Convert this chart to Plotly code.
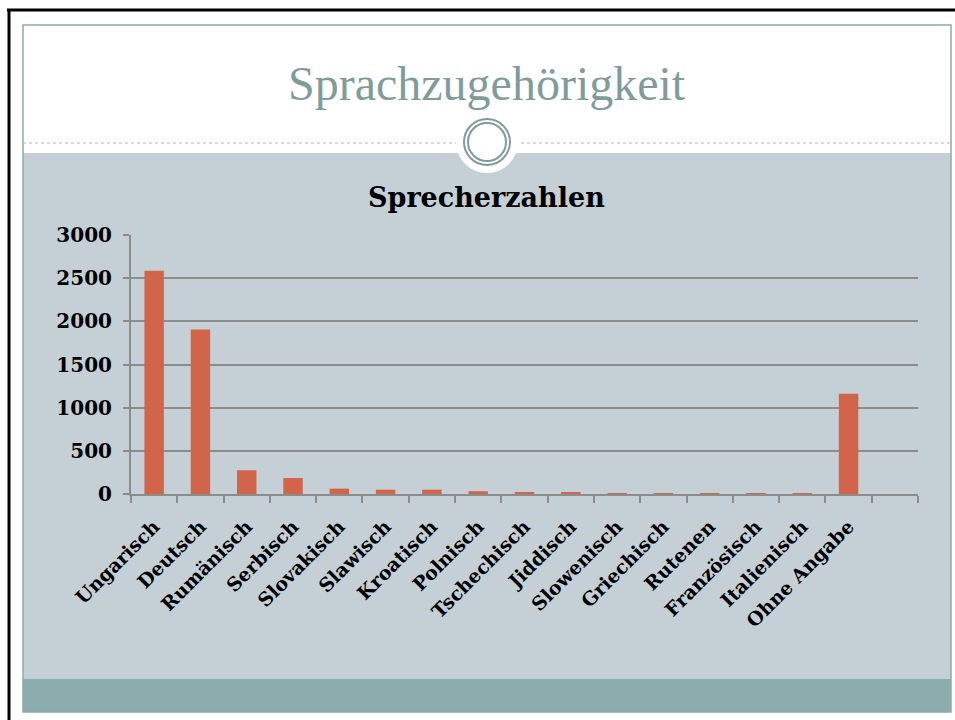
import plotly.graph_objects as go

languages = ["Ungarisch", "Deutsch", "Rumänisch", "Serbisch", "Slovakisch", "Slawisch",
             "Kroatisch", "Polnisch", "Tschechisch", "Jiddisch", "Slowenisch", "Griechisch",
             "Rutenen", "Französisch", "Italienisch", "Ohne Angabe", " "]
speakers = [2585, 1905, 275, 185, 62, 50, 50, 32, 18, 16, 4, 3, 2, 2, 1, 1160, None]
y_ticks = [0, 500, 1000, 1500, 2000, 2500, 3000]

W, H = 955, 720
# plot area in screen pixels
L, R, T, B = 131, 918, 235, 494


def px(x):
    return (x - L) / (R - L)


def py(y):
    return (B - y) / (B - T)


fig = go.Figure()
fig.add_trace(go.Bar(x=languages, y=speakers, marker=dict(color='#d2644a', line=dict(width=0)),
                     hoverinfo='x+y'))

frame = '#8fa9a8'
shapes = [
    # slide panels
    dict(type='rect', x0=px(23), x1=px(951), y0=py(153), y1=py(679), fillcolor='#c5d0d6', line_width=0),
    dict(type='rect', x0=px(23), x1=px(951), y0=py(679), y1=py(712), fillcolor='#8badad', line_width=0),
    dict(type='rect', x0=px(23), x1=px(951), y0=py(25), y1=py(712), fillcolor='rgba(0,0,0,0)',
         line=dict(color=frame, width=1.5)),
    dict(type='line', x0=px(23), x1=px(951), y0=py(143), y1=py(143),
         line=dict(color='#a9b8bc', width=1, dash='dot')),
    # medallion
    dict(type='circle', x0=px(456), x1=px(518), y0=py(111), y1=py(173), fillcolor='white', line_width=0),
    dict(type='circle', x0=px(464), x1=px(510), y0=py(119), y1=py(165), fillcolor='white',
         line=dict(color='#7f9c9b', width=2)),
    dict(type='circle', x0=px(468), x1=px(506), y0=py(123), y1=py(161), fillcolor='rgba(0,0,0,0)',
         line=dict(color='#7f9c9b', width=2)),
    # outer black border
    dict(type='line', x0=px(7), x1=px(960), y0=py(10), y1=py(10), line=dict(color='black', width=3)),
    dict(type='line', x0=px(9), x1=px(9), y0=py(10), y1=py(725), line=dict(color='black', width=3)),
]
for s in shapes:
    s.update(xref='paper', yref='paper', layer='below')

fig.update_layout(
    width=W, height=H,
    margin=dict(l=L, r=W - R, t=T, b=H - B, pad=0),
    paper_bgcolor='white',
    plot_bgcolor='rgba(0,0,0,0)',
    showlegend=False,
    bargap=0.58,
    shapes=shapes,
    font=dict(family='DejaVu Serif', color='black'),
    xaxis=dict(type='category', categoryorder='array', categoryarray=languages,
               tickson='boundaries', ticks='outside', ticklen=7, tickwidth=2, tickcolor='#8c8c8c',
               showline=True, linecolor='#8c8c8c', linewidth=2, showgrid=False,
               tickangle=-45, tickfont=dict(family='DejaVu Serif', size=19, color='black', weight='bold'),
               ticklabelstandoff=12),
    yaxis=dict(range=[0, 3000], tickvals=y_ticks, ticks='outside', ticklen=6, tickwidth=2,
               tickcolor='#8c8c8c', showline=True, linecolor='#8c8c8c', linewidth=2,
               gridcolor='#8c8c8c', gridwidth=1.5, zeroline=False,
               tickfont=dict(family='DejaVu Serif', size=20, color='black', weight='bold'),
               ticklabelstandoff=7),
    annotations=[
        dict(text='Sprachzugehörigkeit', x=px(487), y=py(83), xref='paper', yref='paper',
             showarrow=False, xanchor='center', yanchor='middle',
             font=dict(family='Liberation Serif', size=48, color='#7f9c9b')),
        dict(text='<b>Sprecherzahlen</b>', x=px(486), y=py(197), xref='paper', yref='paper',
             showarrow=False, xanchor='center', yanchor='middle',
             font=dict(family='DejaVu Serif', size=27, color='black')),
    ],
)

# drop the default page margin so the figure sits at the top-left corner
fig.write_html('out.html', config={'displayModeBar': False},
               post_script="document.body.style.margin='0'; document.body.style.overflow='hidden';")
